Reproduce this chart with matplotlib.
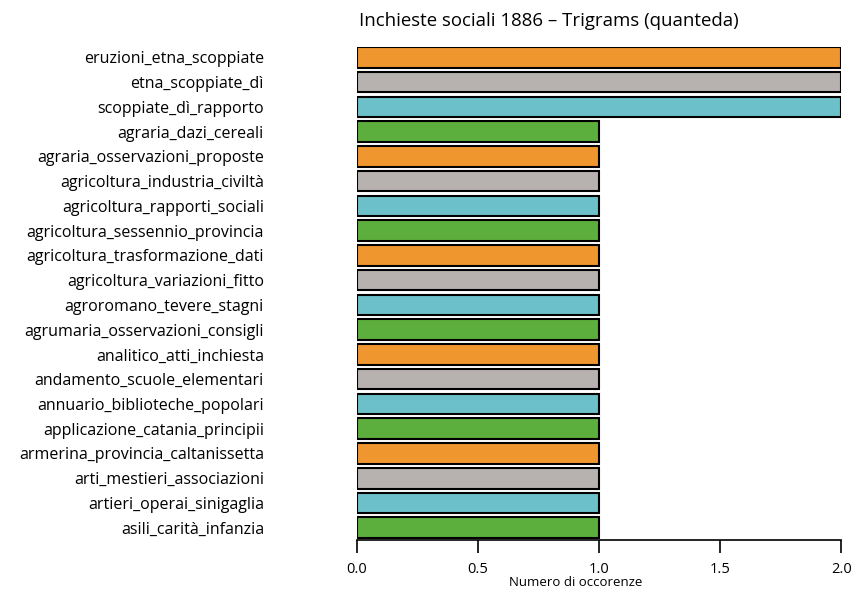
import matplotlib.pyplot as plt
import numpy as np

plt.rcParams['font.family'] = ['Open Sans', 'DejaVu Sans']

# trigram labels, top to bottom
trigrams = ["eruzioni_etna_scoppiate", "etna_scoppiate_dì", "scoppiate_dì_rapporto",
            "agraria_dazi_cereali", "agraria_osservazioni_proposte",
            "agricoltura_industria_civiltà", "agricoltura_rapporti_sociali",
            "agricoltura_sessennio_provincia", "agricoltura_trasformazione_dati",
            "agricoltura_variazioni_fitto", "agroromano_tevere_stagni",
            "agrumaria_osservazioni_consigli", "analitico_atti_inchiesta",
            "andamento_scuole_elementari", "annuario_biblioteche_popolari",
            "applicazione_catania_principii", "armerina_provincia_caltanissetta",
            "arti_mestieri_associazioni", "artieri_operai_sinigaglia",
            "asili_carità_infanzia"]
counts = [2, 2, 2, 1, 1, 1, 1, 1, 1, 1, 1, 1, 1, 1, 1, 1, 1, 1, 1, 1]
palette = ["#F0962F", "#B7B1AF", "#6CC0CA", "#5DAF3D"]

fig = plt.figure(figsize=(8.54, 5.89), dpi=100)
ax = fig.add_axes([0.418, 0.0832, 0.567, 0.837])

y = np.arange(len(trigrams))
h = 1 / 1.2
cols = [palette[i % 4] for i in range(len(trigrams))]
ax.barh(y, counts, height=h, color=cols, edgecolor="black", linewidth=1.5)

ax.set_xlim(0, 2)
ax.set_ylim(len(trigrams) - 1 + h / 2 + 0.08, -h / 2)
ax.set_yticks(y)
ax.set_yticklabels(trigrams, fontsize=11.5)
ax.tick_params(axis="y", length=0, pad=67)
ax.set_xticks([0, 0.5, 1.0, 1.5, 2.0])
ax.set_xticklabels(["0.0", "0.5", "1.0", "1.5", "2.0"], fontsize=10.5)
ax.tick_params(axis="x", length=9.5, width=1.2, pad=6)

for s in ["top", "right", "left"]:
    ax.spines[s].set_visible(False)
ax.spines["bottom"].set_linewidth(1.2)

fig.text(0.643, 0.964, "Inchieste sociali 1886 – Trigrams (quanteda)", fontsize=13.4,
         ha="center", va="center")
fig.text(0.674, 0.011, "Numero di occorenze", fontsize=9.5, ha="center", va="center")

fig.savefig("out.png", dpi=100)
